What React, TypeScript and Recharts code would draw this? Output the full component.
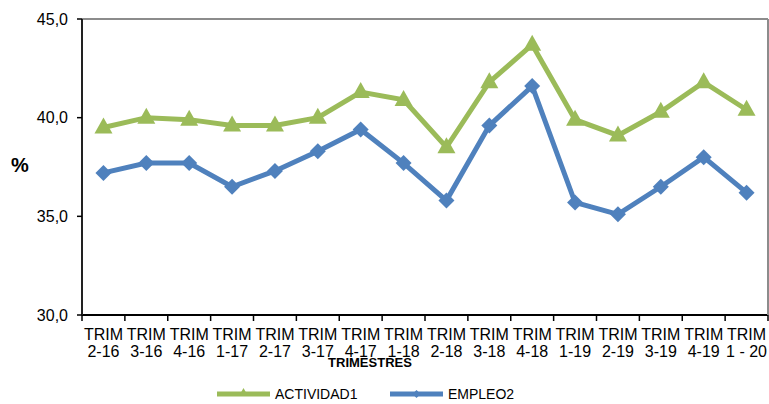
import React from 'react';
import { LineChart, Line, XAxis, YAxis, Legend, Label, ReferenceLine } from 'recharts';

const quarters = [
  'TRIM 2-16', 'TRIM 3-16', 'TRIM 4-16', 'TRIM 1-17', 'TRIM 2-17', 'TRIM 3-17',
  'TRIM 4-17', 'TRIM 1-18', 'TRIM 2-18', 'TRIM 3-18', 'TRIM 4-18', 'TRIM 1-19',
  'TRIM 2-19', 'TRIM 3-19', 'TRIM 4-19', 'TRIM 1 - 20',
];
const actividad = [39.5, 40.0, 39.9, 39.6, 39.6, 40.0, 41.3, 40.9, 38.5, 41.8, 43.7, 39.9, 39.1, 40.3, 41.8, 40.4];
const empleo = [37.2, 37.7, 37.7, 36.5, 37.3, 38.3, 39.4, 37.7, 35.8, 39.6, 41.6, 35.7, 35.1, 36.5, 38.0, 36.2];
const yTicks = [30, 35, 40, 45];

const data = quarters.map((q, i) => ({ q, ACTIVIDAD1: actividad[i], EMPLEO2: empleo[i] }));

const GREEN = '#9BBB59';
const BLUE = '#4F81BD';
const FONT = 'Arial, "Liberation Sans", sans-serif';

const Triangle = (props: any) => {
  const { cx, cy } = props;
  if (cx == null || cy == null) return null;
  return <path d={`M${cx},${cy - 10} L${cx + 9},${cy + 6} L${cx - 9},${cy + 6} Z`} fill={GREEN} />;
};

const Diamond = (props: any) => {
  const { cx, cy } = props;
  if (cx == null || cy == null) return null;
  return <path d={`M${cx},${cy - 8} L${cx + 8},${cy} L${cx},${cy + 8} L${cx - 8},${cy} Z`} fill={BLUE} />;
};

const XTick = (props: any) => {
  const { x, y, payload, index } = props;
  const half = payload.offset || 21.4;
  const s = String(payload.value);
  const sp = s.indexOf(' ');
  const l1 = s.slice(0, sp);
  const l2 = s.slice(sp + 1);
  return (
    <g>
      <line x1={x - half} x2={x - half} y1={y} y2={y + 6} stroke="#000" strokeWidth={1.5} />
      {index === quarters.length - 1 && (
        <>
          <line x1={x + half} x2={x + half} y1={y} y2={y + 6} stroke="#000" strokeWidth={1.5} />
          <line x1={x + half} x2={x + half} y1={19} y2={y} stroke="#8c8c8c" strokeWidth={2} />
        </>
      )}
      <text x={x} y={y + 25} textAnchor="middle" fontSize={16} fill="#000" fontFamily={FONT}>{l1}</text>
      <text x={x} y={y + 42} textAnchor="middle" fontSize={16} fill="#000" fontFamily={FONT}>{l2}</text>
    </g>
  );
};

const LegendContent = () => (
  <div style={{ position: 'relative', height: 34 }}>
    <svg width={769} height={34} style={{ position: 'absolute', left: 0, top: 0 }}>
      <line x1={217} x2={270} y1={24} y2={24} stroke={GREEN} strokeWidth={5} />
      <path d="M243.5,18 L248,26 L239,26 Z" fill={GREEN} />
      <text x={275} y={29} fontSize={14} fontFamily={FONT} fill="#000">ACTIVIDAD1</text>
      <line x1={390} x2={443} y1={24} y2={24} stroke={BLUE} strokeWidth={5} />
      <path d="M416.5,20 L420.5,24 L416.5,28 L412.5,24 Z" fill={BLUE} />
      <text x={448} y={29} fontSize={14} fontFamily={FONT} fill="#000">EMPLEO2</text>
    </svg>
  </div>
);

export default function App() {
  return (
    <div style={{ position: 'absolute', left: 0, top: 0, background: '#fff' }}>
      <LineChart width={769} height={404} data={data} margin={{ top: 19, right: 1, bottom: 0, left: 0 }}>
        <XAxis
          dataKey="q"
          scale="band"
          height={55}
          interval={0}
          tickLine={false}
          tickSize={0}
          tickMargin={0}
          tick={<XTick />}
          axisLine={{ stroke: '#000', strokeWidth: 2 }}
        >
          <Label
            content={(p: any) => {
              const vb = p.viewBox || {};
              return (
                <text x={370} y={(vb.y || 315) + 52} textAnchor="middle" fontSize={13} fontWeight="bold" fontFamily={FONT} fill="#000">
                  TRIMESTRES
                </text>
              );
            }}
          />
        </XAxis>
        <YAxis
          domain={[30, 45]}
          ticks={yTicks}
          width={82}
          tickSize={5}
          tickMargin={9}
          tickFormatter={(v: number) => v.toFixed(1).replace('.', ',')}
          tick={{ fontSize: 16, fill: '#000', fontFamily: FONT }}
          tickLine={{ stroke: '#000', strokeWidth: 1.5 }}
          axisLine={{ stroke: '#222', strokeWidth: 2 }}
        >
          <Label
            content={() => (
              <text x={20} y={172} textAnchor="middle" fontSize={20} fontWeight="bold" fontFamily={FONT} fill="#000">%</text>
            )}
          />
        </YAxis>
        <ReferenceLine y={45} stroke="#8c8c8c" strokeWidth={2} />
        <Legend verticalAlign="bottom" height={34} wrapperStyle={{ left: 0, width: 769 }} content={<LegendContent />} />
        <Line
          dataKey="ACTIVIDAD1"
          stroke={GREEN}
          strokeWidth={5}
          dot={<Triangle />}
          activeDot={false}
          isAnimationActive={false}
        />
        <Line
          dataKey="EMPLEO2"
          stroke={BLUE}
          strokeWidth={5}
          dot={<Diamond />}
          activeDot={false}
          isAnimationActive={false}
        />
      </LineChart>
    </div>
  );
}
